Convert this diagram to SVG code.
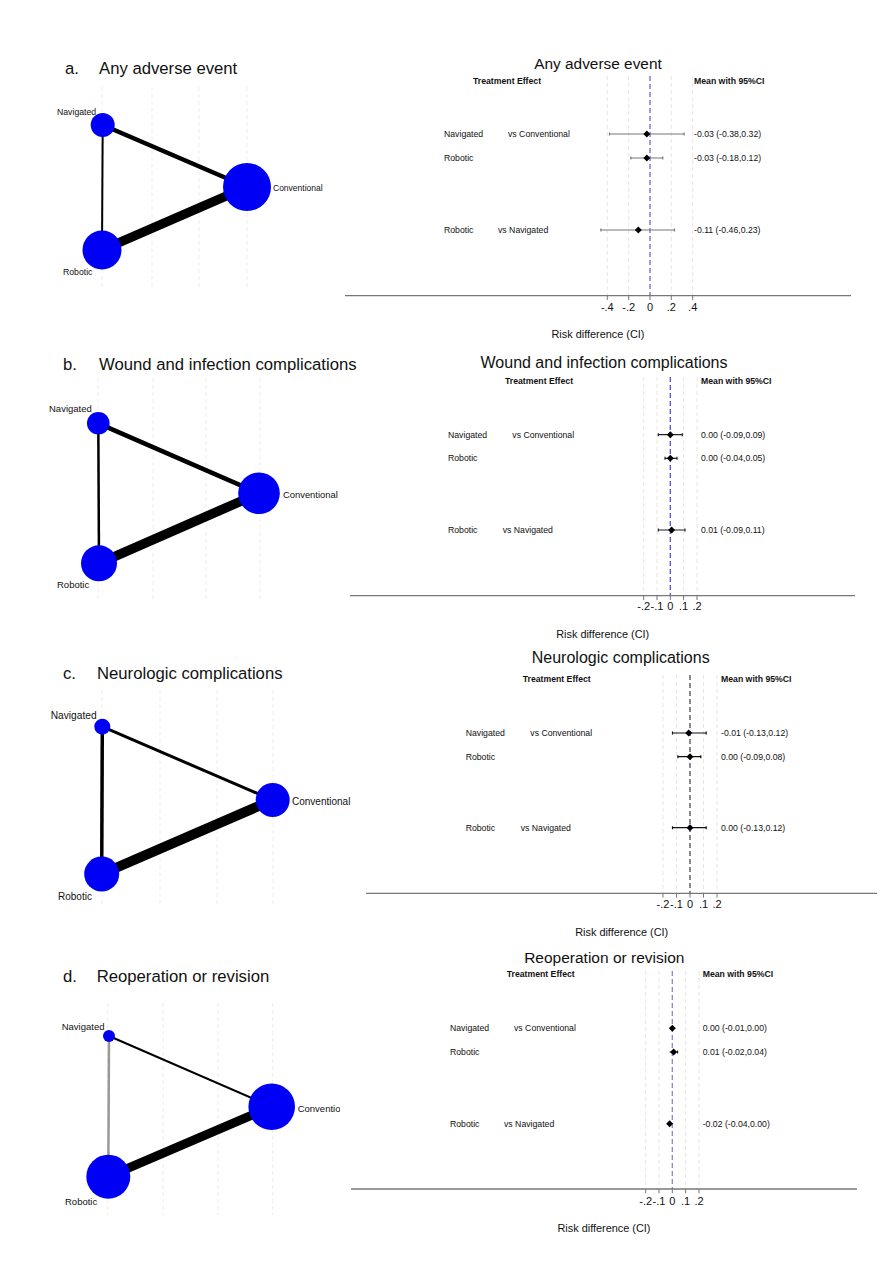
<svg xmlns="http://www.w3.org/2000/svg" width="891" height="1280" viewBox="0 0 891 1280">
<defs>
<style>
text{font-family:"Liberation Sans",Arial,sans-serif;fill:#111}
.title{font-size:16.7px}
.ftitle{font-size:15.8px}
.hdr{font-size:8.7px;font-weight:bold}
.row{font-size:8.7px}
.tick{font-size:11px;text-anchor:middle}
.axt{font-size:10.9px;text-anchor:middle}
.ngrid{stroke:#eeeeee;stroke-width:1;stroke-dasharray:4 3}
.fgrid{stroke:#e6e6e6;stroke-width:1;stroke-dasharray:4 3}
.axis{stroke:#777;stroke-width:1.3}
.node{fill:#0000f5}
.edge{stroke:#000;stroke-linecap:butt}
.ci{stroke-width:1.2}
.dia{fill:#000}
</style>
<clipPath id="clipD"><rect x="0" y="950" width="340" height="270"/></clipPath>
</defs>
<rect width="891" height="1280" fill="#fff"/>

<!-- ================= Panel a ================= -->
<g id="panel-a-network">
<text class="title" x="65" y="74">a.</text>
<text class="title" x="99" y="74">Any adverse event</text>
<g class="gridlines">
<line class="ngrid" x1="102" y1="87" x2="102" y2="290"/>
<line class="ngrid" x1="152" y1="87" x2="152" y2="290"/>
<line class="ngrid" x1="199" y1="87" x2="199" y2="290"/>
<line class="ngrid" x1="247" y1="87" x2="247" y2="290"/>
</g>
<g id="a-connectors">
<line class="edge" x1="102.7" y1="125" x2="247" y2="187" stroke-width="4.5"/>
<line class="edge" x1="102.7" y1="125" x2="102" y2="250" stroke-width="2"/>
<line class="edge" x1="102" y1="250" x2="247" y2="187" stroke-width="9"/>
</g>
<g id="a-navigated"><circle class="node" cx="102.7" cy="125" r="12"/><text class="row" x="57" y="115">Navigated</text></g>
<g id="a-conventional"><circle class="node" cx="247" cy="187" r="24"/><text class="row" style="font-size:8.5px" x="273" y="191">Conventional</text></g>
<g id="a-robotic"><circle class="node" cx="102" cy="250" r="19.5"/><text class="row" x="63" y="275">Robotic</text></g>
</g>

<g id="panel-a-forest">
<text class="ftitle" x="598" y="69" text-anchor="middle" style="font-size:15.4px">Any adverse event</text>
<text class="hdr" x="473" y="84">Treatment Effect</text>
<text class="hdr" x="694" y="84">Mean with 95%CI</text>
<line class="fgrid" x1="607.3" y1="76" x2="607.3" y2="295"/>
<line class="fgrid" x1="628.7" y1="76" x2="628.7" y2="295"/>
<line class="fgrid" x1="671.3" y1="76" x2="671.3" y2="295"/>
<line class="fgrid" x1="692.7" y1="76" x2="692.7" y2="295"/>
<line x1="650" y1="76" x2="650" y2="295" stroke="#7068e6" stroke-width="1.3" stroke-dasharray="5 3"/>
<text class="row" x="444" y="137">Navigated</text>
<text class="row" x="508" y="137">vs Conventional</text>
<text class="row" x="694" y="137">-0.03 (-0.38,0.32)</text>
<text class="row" x="444" y="161">Robotic</text>
<text class="row" x="694" y="161">-0.03 (-0.18,0.12)</text>
<text class="row" x="444" y="233">Robotic</text>
<text class="row" x="498" y="233">vs Navigated</text>
<text class="row" x="694" y="233">-0.11 (-0.46,0.23)</text>
<g stroke="#777" class="ci">
<path d="M609.5 134H684.1M609.5 132.5V135.5M684.1 132.5V135.5"/>
<path d="M630.8 158H662.8M630.8 156.5V159.5M662.8 156.5V159.5"/>
<path d="M600.9 230H674.5M600.9 228.5V231.5M674.5 228.5V231.5"/>
</g>
<path class="dia" d="M646.8 130.5L650.3 134L646.8 137.5L643.3 134Z"/>
<path class="dia" d="M646.8 154.5L650.3 158L646.8 161.5L643.3 158Z"/>
<path class="dia" d="M638.3 226.5L641.8 230L638.3 233.5L634.8 230Z"/>
<line class="axis" x1="345" y1="295.7" x2="851" y2="295.7"/>
<path stroke="#777" stroke-width="1" d="M607.3 295.7V300M628.7 295.7V300M650 295.7V300M671.3 295.7V300M692.7 295.7V300"/>
<text class="tick" x="607.3" y="311">-.4</text>
<text class="tick" x="628.7" y="311">-.2</text>
<text class="tick" x="650" y="311">0</text>
<text class="tick" x="671.3" y="311">.2</text>
<text class="tick" x="692.7" y="311">.4</text>
<text class="axt" x="598" y="338">Risk difference (CI)</text>
</g>

<!-- ================= Panel b ================= -->
<g id="panel-b-network">
<text class="title" x="63" y="370">b.</text>
<text class="title" x="99" y="370">Wound and infection complications</text>
<g class="gridlines">
<line class="ngrid" x1="98" y1="378" x2="98" y2="600"/>
<line class="ngrid" x1="153" y1="378" x2="153" y2="600"/>
<line class="ngrid" x1="206" y1="378" x2="206" y2="600"/>
<line class="ngrid" x1="260" y1="378" x2="260" y2="600"/>
</g>
<g id="b-connectors">
<line class="edge" x1="98.3" y1="423.3" x2="259" y2="493.3" stroke-width="4.7"/>
<line class="edge" x1="98.3" y1="423.3" x2="99" y2="563.3" stroke-width="2.5"/>
<line class="edge" x1="99" y1="563.3" x2="259" y2="493.3" stroke-width="9.5"/>
</g>
<g id="b-navigated"><circle class="node" cx="98.3" cy="423.3" r="11.3"/><text class="row" style="font-size:9.5px" x="49" y="412">Navigated</text></g>
<g id="b-conventional"><circle class="node" cx="259" cy="493.3" r="20.8"/><text class="row" style="font-size:9.4px" x="283" y="497.5">Conventional</text></g>
<g id="b-robotic"><circle class="node" cx="99" cy="563.3" r="18"/><text class="row" style="font-size:9.5px" x="57" y="588">Robotic</text></g>
</g>

<g id="panel-b-forest">
<text class="ftitle" x="604" y="368.3" text-anchor="middle" style="font-size:16px">Wound and infection complications</text>
<text class="hdr" x="505" y="384">Treatment Effect</text>
<text class="hdr" x="701" y="384">Mean with 95%CI</text>
<line class="fgrid" x1="643.7" y1="377" x2="643.7" y2="595.7"/>
<line class="fgrid" x1="657" y1="377" x2="657" y2="595.7"/>
<line class="fgrid" x1="683.6" y1="377" x2="683.6" y2="595.7"/>
<line class="fgrid" x1="697" y1="377" x2="697" y2="595.7"/>
<line x1="670.3" y1="377" x2="670.3" y2="595.7" stroke="#5a50d6" stroke-width="1.3" stroke-dasharray="5 3"/>
<text class="row" x="448" y="437.7">Navigated</text>
<text class="row" x="512.3" y="437.7">vs Conventional</text>
<text class="row" x="701" y="437.7">0.00 (-0.09,0.09)</text>
<text class="row" x="448" y="461.3">Robotic</text>
<text class="row" x="701" y="461.3">0.00 (-0.04,0.05)</text>
<text class="row" x="448" y="533">Robotic</text>
<text class="row" x="502.7" y="533">vs Navigated</text>
<text class="row" x="701" y="533">0.01 (-0.09,0.11)</text>
<g stroke="#222" class="ci">
<path d="M658.3 434.7H682.3M658.3 433.2V436.2M682.3 433.2V436.2"/>
<path d="M665 458.3H677M665 456.8V459.8M677 456.8V459.8"/>
<path d="M658.3 530H685M658.3 528.5V531.5M685 528.5V531.5"/>
</g>
<path class="dia" d="M670.3 431.2L673.8 434.7L670.3 438.2L666.8 434.7Z"/>
<path class="dia" d="M670.3 454.8L673.8 458.3L670.3 461.8L666.8 458.3Z"/>
<path class="dia" d="M671.6 526.5L675.1 530L671.6 533.5L668.1 530Z"/>
<line class="axis" x1="350" y1="595.7" x2="855" y2="595.7"/>
<path stroke="#777" stroke-width="1" d="M643.7 595.7V600M657 595.7V600M670.3 595.7V600M683.6 595.7V600M697 595.7V600"/>
<text class="tick" x="643.7" y="610">-.2</text>
<text class="tick" x="657" y="610">-.1</text>
<text class="tick" x="670.3" y="610">0</text>
<text class="tick" x="683.6" y="610">.1</text>
<text class="tick" x="697" y="610">.2</text>
<text class="axt" x="602.7" y="638">Risk difference (CI)</text>
</g>

<!-- ================= Panel c ================= -->
<g id="panel-c-network">
<text class="title" x="63" y="678.7">c.</text>
<text class="title" x="97" y="678.7">Neurologic complications</text>
<g class="gridlines">
<line class="ngrid" x1="102" y1="690" x2="102" y2="905"/>
<line class="ngrid" x1="160" y1="690" x2="160" y2="905"/>
<line class="ngrid" x1="217" y1="690" x2="217" y2="905"/>
<line class="ngrid" x1="273" y1="690" x2="273" y2="905"/>
</g>
<g id="c-connectors">
<line class="edge" x1="102.3" y1="726.7" x2="272.7" y2="800" stroke-width="3"/>
<line class="edge" x1="102.3" y1="726.7" x2="101.7" y2="874" stroke-width="3.5"/>
<line class="edge" x1="101.7" y1="874" x2="272.7" y2="800" stroke-width="10"/>
</g>
<g id="c-navigated"><circle class="node" cx="102.3" cy="726.7" r="8"/><text class="row" style="font-size:10.2px" x="50.7" y="718.5">Navigated</text></g>
<g id="c-conventional"><circle class="node" cx="272.7" cy="800" r="17"/><text class="row" style="font-size:10px" x="292" y="805">Conventional</text></g>
<g id="c-robotic"><circle class="node" cx="101.7" cy="874" r="17.5"/><text class="row" style="font-size:10px" x="58" y="900">Robotic</text></g>
</g>

<g id="panel-c-forest">
<text class="ftitle" x="620.7" y="662.7" text-anchor="middle" style="font-size:16px">Neurologic complications</text>
<text class="hdr" x="522.7" y="682.3">Treatment Effect</text>
<text class="hdr" x="721" y="682.3">Mean with 95%CI</text>
<line class="fgrid" x1="663" y1="675" x2="663" y2="893.3"/>
<line class="fgrid" x1="676.5" y1="675" x2="676.5" y2="893.3"/>
<line class="fgrid" x1="703.5" y1="675" x2="703.5" y2="893.3"/>
<line class="fgrid" x1="717" y1="675" x2="717" y2="893.3"/>
<line x1="690" y1="675" x2="690" y2="893.3" stroke="#3c3c5c" stroke-width="1.2" stroke-dasharray="5 3"/>
<text class="row" x="465.7" y="736">Navigated</text>
<text class="row" x="530.3" y="736">vs Conventional</text>
<text class="row" x="721" y="736">-0.01 (-0.13,0.12)</text>
<text class="row" x="465.7" y="759.7">Robotic</text>
<text class="row" x="721" y="759.7">0.00 (-0.09,0.08)</text>
<text class="row" x="465.7" y="830.7">Robotic</text>
<text class="row" x="520.7" y="830.7">vs Navigated</text>
<text class="row" x="721" y="830.7">0.00 (-0.13,0.12)</text>
<g stroke="#111" class="ci">
<path d="M672.5 733H706.2M672.5 731.5V734.5M706.2 731.5V734.5"/>
<path d="M677.9 756.7H700.8M677.9 755.2V758.2M700.8 755.2V758.2"/>
<path d="M672.5 827.7H706.2M672.5 826.2V829.2M706.2 826.2V829.2"/>
</g>
<path class="dia" d="M688.7 729.5L692.2 733L688.7 736.5L685.2 733Z"/>
<path class="dia" d="M690 753.2L693.5 756.7L690 760.2L686.5 756.7Z"/>
<path class="dia" d="M690 824.2L693.5 827.7L690 831.2L686.5 827.7Z"/>
<line class="axis" x1="366" y1="893.3" x2="877" y2="893.3"/>
<path stroke="#777" stroke-width="1" d="M663 893.3V897.6M676.5 893.3V897.6M690 893.3V897.6M703.5 893.3V897.6M717 893.3V897.6"/>
<text class="tick" x="663" y="908">-.2</text>
<text class="tick" x="676.5" y="908">-.1</text>
<text class="tick" x="690" y="908">0</text>
<text class="tick" x="703.5" y="908">.1</text>
<text class="tick" x="717" y="908">.2</text>
<text class="axt" x="621.7" y="935.5">Risk difference (CI)</text>
</g>

<!-- ================= Panel d ================= -->
<g id="panel-d-network">
<text class="title" x="63" y="981.7">d.</text>
<text class="title" x="96.7" y="981.7">Reoperation or revision</text>
<g class="gridlines">
<line class="ngrid" x1="107.7" y1="1003" x2="107.7" y2="1215"/>
<line class="ngrid" x1="163" y1="1003" x2="163" y2="1215"/>
<line class="ngrid" x1="218" y1="1003" x2="218" y2="1215"/>
<line class="ngrid" x1="272.7" y1="1003" x2="272.7" y2="1215"/>
</g>
<g id="d-connectors">
<line class="edge" x1="109" y1="1036" x2="271.7" y2="1106.7" stroke-width="2"/>
<line x1="109" y1="1036" x2="108.3" y2="1176.7" stroke="#999" stroke-width="2.5"/>
<line class="edge" x1="108.3" y1="1176.7" x2="271.7" y2="1106.7" stroke-width="9"/>
</g>
<g id="d-navigated"><circle class="node" cx="109" cy="1036" r="6"/><text class="row" style="font-size:9.5px" x="61.7" y="1030">Navigated</text></g>
<g id="d-conventional"><circle class="node" cx="271.7" cy="1106.7" r="23.3"/><text class="row" style="font-size:9.5px" x="297.7" y="1111.5" clip-path="url(#clipD)">Conventional</text></g>
<g id="d-robotic"><circle class="node" cx="108.3" cy="1176.7" r="22"/><text class="row" style="font-size:9.5px" x="65" y="1205">Robotic</text></g>
</g>

<g id="panel-d-forest">
<text class="ftitle" x="604.3" y="962.7" text-anchor="middle" style="font-size:15.5px">Reoperation or revision</text>
<text class="hdr" x="506.7" y="977.3">Treatment Effect</text>
<text class="hdr" x="702.7" y="977.3">Mean with 95%CI</text>
<line class="fgrid" x1="645.7" y1="971" x2="645.7" y2="1189"/>
<line class="fgrid" x1="659" y1="971" x2="659" y2="1189"/>
<line class="fgrid" x1="685.6" y1="971" x2="685.6" y2="1189"/>
<line class="fgrid" x1="699" y1="971" x2="699" y2="1189"/>
<line x1="672.3" y1="971" x2="672.3" y2="1189" stroke="#8a80e0" stroke-width="1.3" stroke-dasharray="5 3"/>
<text class="row" x="450" y="1031.3">Navigated</text>
<text class="row" x="514" y="1031.3">vs Conventional</text>
<text class="row" x="702.7" y="1031.3">0.00 (-0.01,0.00)</text>
<text class="row" x="450" y="1055">Robotic</text>
<text class="row" x="702.7" y="1055">0.01 (-0.02,0.04)</text>
<text class="row" x="450" y="1126.7">Robotic</text>
<text class="row" x="504" y="1126.7">vs Navigated</text>
<text class="row" x="702.7" y="1126.7">-0.02 (-0.04,0.00)</text>
<g stroke="#222" class="ci">
<path d="M671 1028.3H672.3"/>
<path d="M669.6 1052H677.6M677.6 1050.5V1053.5"/>
<path d="M667 1123.7H672.3"/>
</g>
<path class="dia" d="M672.3 1024.8L675.8 1028.3L672.3 1031.8L668.8 1028.3Z"/>
<path class="dia" d="M673.6 1048.5L677.1 1052L673.6 1055.5L670.1 1052Z"/>
<path class="dia" d="M669.6 1120.2L673.1 1123.7L669.6 1127.2L666.1 1123.7Z"/>
<line class="axis" x1="351" y1="1189" x2="857" y2="1189"/>
<path stroke="#777" stroke-width="1" d="M645.7 1189V1193.3M659 1189V1193.3M672.3 1189V1193.3M685.6 1189V1193.3M699 1189V1193.3"/>
<text class="tick" x="645.7" y="1205">-.2</text>
<text class="tick" x="659" y="1205">-.1</text>
<text class="tick" x="672.3" y="1205">0</text>
<text class="tick" x="685.6" y="1205">.1</text>
<text class="tick" x="699" y="1205">.2</text>
<text class="axt" x="604" y="1231.5">Risk difference (CI)</text>
</g>
</svg>
